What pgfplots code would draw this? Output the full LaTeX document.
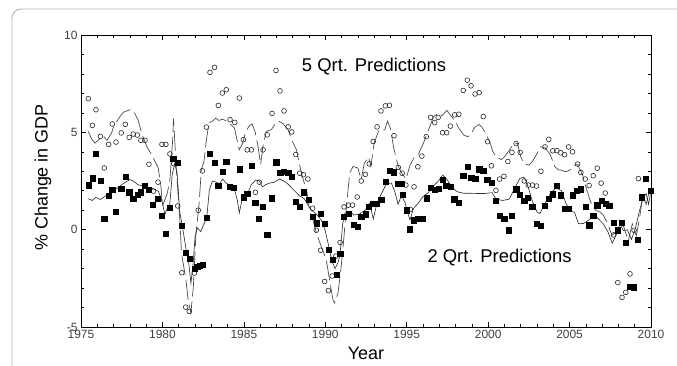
\documentclass[border=0pt]{standalone}
\usepackage{pgfplots}
\pgfplotsset{compat=1.18}
\usepackage{fontspec}
\setmainfont{Liberation Sans}
\begin{document}
\begin{tikzpicture}[x=1bp,y=1bp]
\useasboundingbox (0,0) rectangle (677,365);
\draw[black!30, line width=0.9bp, rounded corners=9bp] (12,-30) -- (12,356) -- (720,356);
\begin{axis}[at={(81bp,38bp)}, anchor=south west, scale only axis,
  width=570bp, height=292bp,
  xmin=1975, xmax=2010, ymin=-5, ymax=10,
  xtick={1975,1980,...,2010}, ytick={-5,0,5,10},
  minor x tick num=4, minor y tick num=4,
  tick align=inside, major tick length=5bp, minor tick length=3bp,
  axis line style={black, line width=0.6bp},
  tick style={black, line width=0.5bp},
  /pgf/number format/.cd, 1000 sep={}, assume math mode=true, /pgfplots/.cd,
  tick label style={font=\fontsize{12}{12}\selectfont, text=black!75},
  xlabel={Year}, ylabel={\% Change in GDP},
  label style={font=\fontsize{18}{18}\selectfont},
  xlabel style={at={(axis description cs:0.5,-0.089)}, anchor=center},
  ylabel style={at={(axis description cs:-0.0667,0.512)}, anchor=center},
  clip=false]
% dashed line (5 quarter)
\addplot[black!70, line width=0.7bp, dash pattern=on 20bp off 5bp] table {
1975.45 5.05
1975.65 4.66
1975.86 4.45
1976.06 4.6
1976.37 4.8
1976.6 4.6
1976.88 4.97
1977.0 5.3
1977.4 5.82
1977.6 6.03
1978.0 6.16
1978.2 6.13
1978.5 5.65
1978.72 4.97
1979.03 4.28
1979.3 3.9
1979.54 3.51
1979.74 3.17
1979.9 2.3
1980.0 1.2
1980.3 1.88
1980.46 2.57
1980.62 4.5
1980.68 5.7
1980.87 2.91
1981.07 0.51
1981.17 -1.2
1981.44 -2.57
1981.58 -3.6
1981.75 -4.28
1981.9 -2.91
1982.06 -0.17
1982.24 1.2
1982.39 3.08
1982.55 3.5
1982.7 4.62
1982.86 5.48
1983.07 5.57
1983.27 5.73
1983.47 5.61
1983.68 5.68
1983.9 5.6
1984.15 5.45
1984.42 5.22
1984.62 4.45
1984.72 4.1
1984.93 4.45
1985.1 5.0
1985.3 5.3
1985.5 5.44
1985.7 5.0
1985.87 4.28
1986.03 3.34
1986.17 4.28
1986.38 5.05
1986.68 5.13
1986.9 5.4
1987.15 5.57
1987.42 5.44
1987.72 5.13
1987.93 4.62
1988.23 4.1
1988.44 3.25
1988.64 2.57
1988.85 2.05
1988.95 1.5
1989.05 0.9
1989.24 0.51
1989.45 -0.17
1989.75 -0.86
1990.06 -1.54
1990.26 -2.57
1990.47 -3.6
1990.57 -3.77
1990.78 -3.25
1990.98 -1.88
1991.15 -0.34
1991.3 1.2
1991.5 2.91
1991.7 3.25
1992.0 3.17
1992.2 2.57
1992.4 3.42
1992.67 3.73
1992.8 3.25
1993.0 4.45
1993.3 5.13
1993.65 5.13
1993.82 5.57
1994.0 5.2
1994.2 4.2
1994.48 3.25
1994.7 2.9
1994.95 2.6
1995.2 3.3
1995.45 3.7
1995.7 3.85
1996.03 4.45
1996.34 5.13
1996.65 5.82
1996.96 5.99
1997.16 5.85
1997.47 6.13
1997.67 5.9
1997.98 5.57
1998.19 5.22
1998.49 4.87
1998.75 4.77
1999.0 5.0
1999.2 5.28
1999.45 5.4
1999.6 5.28
1999.8 5.03
2000.1 4.5
2000.3 4.0
2000.5 3.74
2000.8 3.6
2001.0 3.74
2001.3 4.08
2001.55 4.4
2001.8 4.43
2002.0 3.74
2002.2 3.4
2002.5 3.31
2002.7 3.48
2003.0 3.91
2003.2 4.26
2003.5 4.2
2003.8 3.88
2004.1 3.23
2004.3 3.08
2004.5 3.05
2004.75 2.97
2005.0 3.05
2005.3 3.3
2005.5 3.35
2005.8 2.8
2006.0 2.2
2006.3 1.4
2006.6 1.0
2006.9 0.9
2007.1 0.7
2007.35 0.3
2007.6 -0.3
2007.85 -0.1
2008.1 0.5
2008.35 0.1
2008.6 -0.6
2008.85 0.3
2009.1 -0.3
2009.3 0.6
2009.5 1.8
2009.7 1.3
2009.9 2.0
};
% solid line (2 quarter)
\addplot[black!85, line width=0.6bp] table {
1975.45 1.59
1975.7 1.5
1975.9 1.66
1976.2 1.55
1976.47 1.71
1976.75 1.85
1977.0 1.97
1977.25 2.15
1977.5 2.31
1977.75 2.45
1978.0 2.57
1978.2 2.5
1978.5 2.31
1978.75 2.25
1979.0 2.19
1979.25 2.15
1979.45 2.1
1979.75 1.97
1979.95 1.54
1980.15 0.8
1980.3 1.1
1980.45 1.3
1980.6 2.8
1980.75 3.4
1980.9 2.9
1981.07 0.86
1981.2 0.3
1981.45 -1.0
1981.6 -1.6
1981.75 -2.76
1981.9 -1.6
1982.0 -0.4
1982.14 0.1
1982.35 -0.1
1982.5 0.2
1982.72 0.6
1982.88 2.05
1983.07 2.5
1983.27 2.45
1983.5 2.35
1983.7 2.6
1983.9 2.4
1984.1 2.3
1984.4 2.15
1984.6 1.5
1984.72 0.86
1984.9 1.6
1985.2 1.8
1985.45 2.3
1985.72 2.55
1985.95 2.5
1986.13 2.2
1986.34 2.31
1986.6 2.4
1986.85 2.43
1987.2 2.6
1987.46 2.5
1987.7 2.35
1988.05 2.05
1988.4 1.75
1988.7 1.6
1988.95 1.25
1989.15 1.0
1989.45 0.8
1989.75 0.5
1989.98 0.0
1990.2 -0.8
1990.4 -1.6
1990.6 -2.0
1990.78 -1.7
1990.9 -1.3
1991.07 0.3
1991.2 0.85
1991.5 0.9
1991.8 0.75
1992.1 0.8
1992.45 1.0
1992.73 1.35
1992.95 0.55
1993.15 1.3
1993.45 1.85
1993.75 2.35
1994.05 2.4
1994.27 1.95
1994.47 1.3
1994.67 1.75
1994.9 1.4
1995.05 0.9
1995.2 0.5
1995.42 1.1
1995.7 1.35
1996.0 1.7
1996.33 1.9
1996.7 2.3
1996.95 2.5
1997.21 2.8
1997.46 2.6
1997.77 2.17
1998.1 1.95
1998.5 1.87
1998.9 1.87
1999.3 1.86
1999.8 1.86
2000.25 1.9
2000.48 1.57
2000.9 1.5
2001.3 1.57
2001.7 2.25
2001.95 2.63
2002.2 2.7
2002.4 2.35
2002.7 1.5
2003.0 0.9
2003.18 0.83
2003.43 1.26
2003.8 1.83
2004.15 2.15
2004.5 2.0
2004.8 1.3
2005.05 0.95
2005.3 0.9
2005.55 0.3
2005.85 0.32
2006.2 0.5
2006.5 0.8
2006.72 0.6
2007.05 0.32
2007.35 -0.1
2007.62 -0.7
2007.85 -0.3
2008.1 0.3
2008.3 -0.05
2008.55 0.0
2008.8 -0.5
2009.05 0.1
2009.3 1.0
2009.55 1.7
2009.7 1.85
2009.85 1.3
2010.0 2.0
};
% circles (5 quarter predictions)
\addplot[only marks, mark=o, mark size=2.4bp, black!85, mark options={line width=0.6bp}] table {
1975.45 6.73
1975.7 5.36
1975.92 6.16
1976.19 4.79
1976.43 3.17
1976.7 4.38
1976.92 5.43
1977.15 4.5
1977.47 4.97
1977.72 5.41
1977.96 4.74
1978.21 4.91
1978.46 4.86
1978.68 4.59
1978.93 4.59
1979.17 3.36
1979.45 1.98
1979.73 2.44
1979.97 4.38
1980.21 4.38
1980.46 3.89
1980.7 3.39
1980.94 1.22
1981.19 -2.21
1981.43 -3.98
1981.65 -4.2
1981.96 -2.23
1982.2 1.0
1982.45 3.02
1982.7 5.27
1982.92 8.08
1983.2 8.34
1983.43 6.38
1983.68 7.02
1983.92 7.19
1984.15 5.65
1984.44 5.51
1984.72 6.76
1984.97 4.62
1985.21 4.1
1985.46 4.1
1985.71 1.92
1985.95 2.44
1986.18 4.1
1986.43 4.87
1986.73 5.97
1986.97 8.18
1987.22 7.13
1987.47 6.1
1987.72 5.28
1987.94 5.02
1988.19 3.86
1988.43 2.9
1988.66 2.82
1988.93 2.6
1989.22 1.1
1989.45 -0.03
1989.71 -1.06
1989.96 -2.66
1990.19 -3.13
1990.42 -2.38
1990.65 -1.36
1990.91 -0.66
1991.15 1.17
1991.41 1.26
1991.67 1.26
1991.96 1.68
1992.21 2.5
1992.46 2.84
1992.7 3.38
1992.94 4.53
1993.18 5.28
1993.42 6.1
1993.69 6.36
1993.94 6.39
1994.22 4.83
1994.48 3.2
1994.72 2.9
1994.95 2.29
1995.22 1.04
1995.45 2.2
1995.68 3.23
1995.93 3.78
1996.2 4.78
1996.47 5.77
1996.72 5.5
1996.93 5.77
1997.2 4.98
1997.45 4.98
1997.68 5.32
1997.95 5.9
1998.2 5.93
1998.47 7.15
1998.72 7.68
1998.95 7.39
1999.2 6.97
1999.45 7.04
1999.7 5.81
1999.97 4.52
2000.2 3.28
2000.48 2.02
2000.7 2.6
2000.97 2.74
2001.21 3.5
2001.46 3.97
2001.72 4.42
2001.97 3.97
2002.22 2.5
2002.47 2.29
2002.72 2.29
2002.97 2.24
2003.24 3.0
2003.49 4.25
2003.72 4.64
2003.97 4.05
2004.22 4.06
2004.46 3.95
2004.69 3.85
2004.94 4.25
2005.18 4.0
2005.49 3.37
2005.69 2.94
2005.96 2.6
2006.2 2.27
2006.45 2.77
2006.7 3.16
2006.94 2.39
2007.19 1.88
2007.44 1.25
2007.7 -0.27
2007.96 -2.72
2008.22 -3.48
2008.45 -3.22
2008.71 -2.27
2008.96 -0.03
2009.22 2.62
};
% squares (2 quarter predictions)
\addplot[only marks, mark=square*, mark size=2.6bp, black] table {
1975.45 2.28
1975.72 2.64
1975.92 3.92
1976.19 2.50
1976.43 0.55
1976.70 1.76
1976.92 2.07
1977.15 0.94
1977.47 2.09
1977.72 2.74
1977.96 1.92
1978.21 1.61
1978.46 1.78
1978.68 1.92
1978.93 2.26
1979.17 2.05
1979.42 1.30
1979.72 1.59
1979.97 0.70
1980.21 -0.22
1980.46 1.11
1980.66 3.66
1980.95 3.46
1981.20 0.22
1981.44 -1.20
1981.65 -1.49
1981.96 -2.00
1982.14 -1.90
1982.31 -1.85
1982.47 -1.80
1982.71 0.60
1982.92 3.90
1983.20 3.42
1983.43 2.27
1983.68 2.99
1983.92 3.51
1984.15 2.22
1984.40 2.14
1984.72 3.11
1984.97 1.67
1985.21 1.83
1985.46 3.28
1985.69 1.37
1985.93 0.56
1986.18 1.16
1986.43 -0.26
1986.73 1.62
1986.98 3.47
1987.23 2.91
1987.47 2.99
1987.72 2.91
1987.94 2.74
1988.19 1.45
1988.42 1.16
1988.66 1.92
1989.00 1.54
1989.22 0.67
1989.47 0.33
1989.71 0.84
1989.95 0.29
1990.21 -1.04
1990.45 -1.54
1990.68 -2.32
1990.92 -1.25
1991.15 0.67
1991.45 0.80
1991.72 0.26
1991.97 0.14
1992.20 0.65
1992.47 0.79
1992.68 1.18
1992.94 1.35
1993.15 1.33
1993.43 1.56
1993.71 2.45
1993.95 3.02
1994.22 2.95
1994.46 2.37
1994.67 2.37
1994.75 1.79
1995.00 1.00
1995.19 0.02
1995.43 0.49
1995.68 0.57
1995.95 0.55
1996.24 1.62
1996.49 2.15
1996.74 2.05
1996.98 2.10
1997.22 2.56
1997.43 2.26
1997.69 2.19
1997.92 1.57
1998.19 1.38
1998.47 2.77
1998.72 3.25
1998.96 2.68
1999.20 2.60
1999.45 3.11
1999.70 3.04
1999.94 2.56
2000.20 2.40
2000.45 1.50
2000.71 0.71
2000.99 0.56
2001.25 -0.03
2001.46 0.71
2001.72 2.08
2001.95 1.81
2002.21 1.50
2002.45 1.65
2002.70 1.20
2002.97 0.31
2003.24 0.20
2003.46 1.22
2003.71 1.60
2003.94 1.82
2004.20 2.27
2004.45 1.77
2004.70 1.06
2004.92 1.06
2005.20 1.77
2005.45 2.02
2005.70 2.08
2005.97 1.20
2006.20 0.23
2006.45 0.71
2006.70 1.26
2006.95 1.48
2007.20 1.35
2007.43 1.24
2007.71 0.34
2007.97 -0.03
2008.22 0.34
2008.46 -0.68
2008.72 -2.94
2008.95 -2.96
2009.20 -0.52
2009.43 1.67
2009.68 2.62
2010.00 1.99
};
\node[font=\fontsize{18.5}{18.5}\selectfont, anchor=center] at (axis cs:1992.99,8.37) {5 Qrt. Predictions};
\node[font=\fontsize{18.5}{18.5}\selectfont, anchor=center] at (axis cs:2000.7,-1.42) {2 Qrt. Predictions};
\end{axis}
\end{tikzpicture}
\end{document}
